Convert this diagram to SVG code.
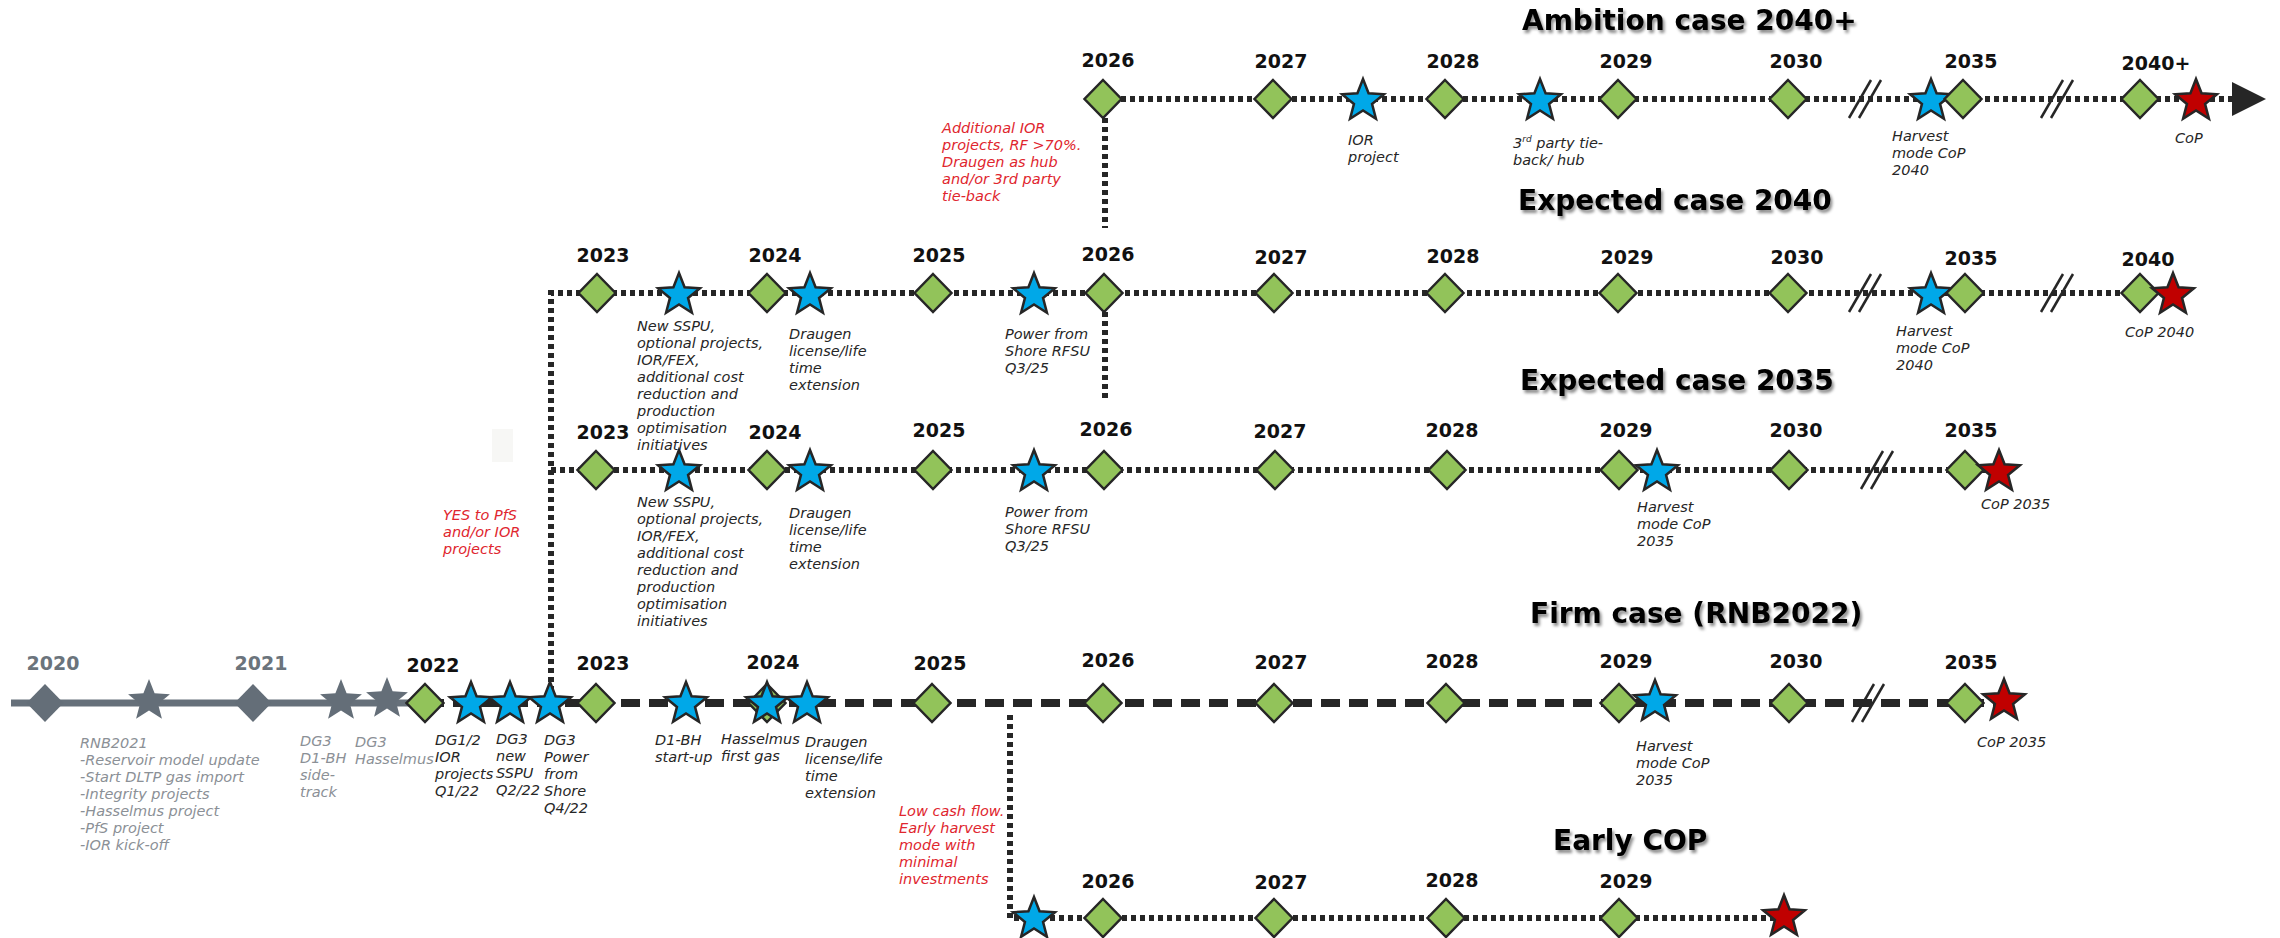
<svg xmlns="http://www.w3.org/2000/svg" width="2280" height="938" viewBox="0 0 2280 938">
<style>
.yr{font-family:"DejaVu Sans",Verdana,sans-serif;font-weight:bold;font-size:19px;text-anchor:middle;fill:#111}
.gyr{font-family:"DejaVu Sans",Verdana,sans-serif;font-weight:bold;font-size:19px;text-anchor:middle;fill:#6b747c}
.lbl{font-family:"DejaVu Sans",Verdana,sans-serif;font-style:italic;font-size:14.5px;fill:#262626}
.glbl{font-family:"DejaVu Sans",Verdana,sans-serif;font-style:italic;font-size:14.5px;fill:#8b9096}
.rlbl{font-family:"DejaVu Sans",Verdana,sans-serif;font-style:italic;font-size:14.5px;fill:#e0262e}
.title{font-family:"DejaVu Sans",Verdana,sans-serif;font-weight:bold;font-size:28px;fill:#000;filter:url(#sh)}
.dot{fill:none;stroke:#262626;stroke-width:6;stroke-dasharray:5 4}
.dash{fill:none;stroke:#262626;stroke-width:8;stroke-dasharray:19 9}
.gline{fill:none;stroke:#66707a;stroke-width:7}
.brk{stroke:#262626;stroke-width:2.5}
.dia{fill:#92c35a;stroke:#262626;stroke-width:2.5}
.sb{fill:#00a8e8;stroke:#262626;stroke-width:2.5}
.sr{fill:#c00000;stroke:#262626;stroke-width:2.5}
.gs{fill:#646e78}
</style>
<defs>
<filter id="sh" x="-10%" y="-40%" width="125%" height="190%"><feDropShadow dx="2" dy="3" stdDeviation="1.6" flood-color="#000" flood-opacity="0.45"/></filter>
<path id="dia" d="M0,-19 L18.5,0 L0,19 L-18.5,0 Z"/>
<path id="star" d="M0,-22 L5.58,-7.69 L20.92,-6.8 L9.04,2.94 L12.93,17.8 L0,9.5 L-12.93,17.8 L-9.04,2.94 L-20.92,-6.8 L-5.58,-7.69 Z"/>
<g id="brk"><line x1="-17" y1="19" x2="5" y2="-19"/><line x1="-7" y1="19" x2="15" y2="-19"/></g>
</defs>
<rect width="2280" height="938" fill="#fff"/>
<rect x="492" y="429" width="21" height="33" fill="#f7f7f5"/>

<!-- titles -->
<text class="title" x="1522" y="30">Ambition case 2040+</text>
<text class="title" x="1518" y="210">Expected case 2040</text>
<text class="title" x="1520" y="390">Expected case 2035</text>
<text class="title" x="1530" y="623">Firm case (RNB2022)</text>
<text class="title" x="1553" y="850">Early COP</text>

<g id="connectors">
<path class="gline" d="M11,703 H410"/>
<path class="dash" d="M425,703 H2000"/>
<path class="dot" d="M551,700 V293 H2170"/>
<path class="dot" d="M551,470 H1995"/>
<path class="dot" d="M1103,99 H2232"/>
<path class="dot" d="M1105,118 V228"/>
<path class="dot" d="M1105,312 V402"/>
<path class="dot" d="M1010,715 V918 H1780"/>
<polygon points="2232,82 2266,99 2232,116" fill="#262626"/>
<g class="brk">
<use href="#brk" x="1866" y="99"/><use href="#brk" x="2058" y="99"/>
<use href="#brk" x="1866" y="293"/><use href="#brk" x="2058" y="293"/>
<use href="#brk" x="1878" y="470"/>
<use href="#brk" x="1869" y="703"/>
</g>
</g>

<!-- red decision notes -->
<text class="rlbl" x="942" y="133"><tspan x="942">Additional IOR</tspan><tspan x="942" dy="17">projects, RF &gt;70%.</tspan><tspan x="942" dy="17">Draugen as hub</tspan><tspan x="942" dy="17">and/or 3rd party</tspan><tspan x="942" dy="17">tie-back</tspan></text>
<text class="rlbl" x="443" y="520"><tspan x="443">YES to PfS</tspan><tspan x="443" dy="17">and/or IOR</tspan><tspan x="443" dy="17">projects</tspan></text>
<text class="rlbl" x="899" y="816"><tspan x="899">Low cash flow.</tspan><tspan x="899" dy="17">Early harvest</tspan><tspan x="899" dy="17">mode with</tspan><tspan x="899" dy="17">minimal</tspan><tspan x="899" dy="17">investments</tspan></text>

<!-- Ambition row -->
<g id="amb-2026"><use href="#dia" class="dia" x="1103" y="99"/><text class="yr" x="1108" y="67">2026</text></g>
<g id="amb-2027"><use href="#dia" class="dia" x="1273" y="99"/><text class="yr" x="1281" y="68">2027</text></g>
<g id="amb-ior"><use href="#star" class="sb" x="1363" y="101"/><text class="lbl" x="1348" y="145"><tspan x="1348">IOR</tspan><tspan x="1348" dy="17">project</tspan></text></g>
<g id="amb-2028"><use href="#dia" class="dia" x="1445" y="99"/><text class="yr" x="1453" y="68">2028</text></g>
<g id="amb-3rd"><use href="#star" class="sb" x="1540" y="101"/><text class="lbl" x="1513" y="148"><tspan x="1513">3</tspan><tspan font-size="9" dy="-6">rd</tspan><tspan dy="6"> party tie-</tspan><tspan x="1513" dy="17">back/ hub</tspan></text></g>
<g id="amb-2029"><use href="#dia" class="dia" x="1618" y="99"/><text class="yr" x="1626" y="68">2029</text></g>
<g id="amb-2030"><use href="#dia" class="dia" x="1788" y="99"/><text class="yr" x="1796" y="68">2030</text></g>
<g id="amb-harvest"><use href="#star" class="sb" x="1931" y="101"/><text class="lbl" x="1892" y="141"><tspan x="1892">Harvest</tspan><tspan x="1892" dy="17">mode CoP</tspan><tspan x="1892" dy="17">2040</tspan></text></g>
<g id="amb-2035"><use href="#dia" class="dia" x="1963" y="99"/><text class="yr" x="1971" y="68">2035</text></g>
<g id="amb-2040"><use href="#dia" class="dia" x="2140" y="99"/><text class="yr" x="2156" y="70">2040+</text></g>
<g id="amb-cop"><use href="#star" class="sr" x="2196" y="101"/><text class="lbl" x="2175" y="143">CoP</text></g>

<!-- Expected 2040 row -->
<g id="e40-2023"><use href="#dia" class="dia" x="597" y="293"/><text class="yr" x="603" y="262">2023</text></g>
<g id="e40-sspu"><use href="#star" class="sb" x="679" y="295"/><text class="lbl" x="637" y="331"><tspan x="637">New SSPU,</tspan><tspan x="637" dy="17">optional projects,</tspan><tspan x="637" dy="17">IOR/FEX,</tspan><tspan x="637" dy="17">additional cost</tspan><tspan x="637" dy="17">reduction and</tspan><tspan x="637" dy="17">production</tspan><tspan x="637" dy="17">optimisation</tspan><tspan x="637" dy="17">initiatives</tspan></text></g>
<g id="e40-2024"><use href="#dia" class="dia" x="767" y="293"/><text class="yr" x="775" y="262">2024</text></g>
<g id="e40-draugen"><use href="#star" class="sb" x="810" y="295"/><text class="lbl" x="789" y="339"><tspan x="789">Draugen</tspan><tspan x="789" dy="17">license/life</tspan><tspan x="789" dy="17">time</tspan><tspan x="789" dy="17">extension</tspan></text></g>
<g id="e40-2025"><use href="#dia" class="dia" x="933" y="293"/><text class="yr" x="939" y="262">2025</text></g>
<g id="e40-pfs"><use href="#star" class="sb" x="1034" y="295"/><text class="lbl" x="1005" y="339"><tspan x="1005">Power from</tspan><tspan x="1005" dy="17">Shore RFSU</tspan><tspan x="1005" dy="17">Q3/25</tspan></text></g>
<g id="e40-2026"><use href="#dia" class="dia" x="1104" y="293"/><text class="yr" x="1108" y="261">2026</text></g>
<g id="e40-2027"><use href="#dia" class="dia" x="1274" y="293"/><text class="yr" x="1281" y="264">2027</text></g>
<g id="e40-2028"><use href="#dia" class="dia" x="1445" y="293"/><text class="yr" x="1453" y="263">2028</text></g>
<g id="e40-2029"><use href="#dia" class="dia" x="1618" y="293"/><text class="yr" x="1627" y="264">2029</text></g>
<g id="e40-2030"><use href="#dia" class="dia" x="1788" y="293"/><text class="yr" x="1797" y="264">2030</text></g>
<g id="e40-harvest"><use href="#star" class="sb" x="1931" y="295"/><text class="lbl" x="1896" y="336"><tspan x="1896">Harvest</tspan><tspan x="1896" dy="17">mode CoP</tspan><tspan x="1896" dy="17">2040</tspan></text></g>
<g id="e40-2035"><use href="#dia" class="dia" x="1965" y="293"/><text class="yr" x="1971" y="265">2035</text></g>
<g id="e40-2040"><use href="#dia" class="dia" x="2140" y="293"/><text class="yr" x="2148" y="266">2040</text></g>
<g id="e40-cop"><use href="#star" class="sr" x="2173" y="295"/><text class="lbl" x="2125" y="337">CoP 2040</text></g>

<!-- Expected 2035 row -->
<g id="e35-2023"><use href="#dia" class="dia" x="596" y="470"/><text class="yr" x="603" y="439">2023</text></g>
<g id="e35-sspu"><use href="#star" class="sb" x="679" y="472"/><text class="lbl" x="637" y="507"><tspan x="637">New SSPU,</tspan><tspan x="637" dy="17">optional projects,</tspan><tspan x="637" dy="17">IOR/FEX,</tspan><tspan x="637" dy="17">additional cost</tspan><tspan x="637" dy="17">reduction and</tspan><tspan x="637" dy="17">production</tspan><tspan x="637" dy="17">optimisation</tspan><tspan x="637" dy="17">initiatives</tspan></text></g>
<g id="e35-2024"><use href="#dia" class="dia" x="767" y="470"/><text class="yr" x="775" y="439">2024</text></g>
<g id="e35-draugen"><use href="#star" class="sb" x="810" y="472"/><text class="lbl" x="789" y="518"><tspan x="789">Draugen</tspan><tspan x="789" dy="17">license/life</tspan><tspan x="789" dy="17">time</tspan><tspan x="789" dy="17">extension</tspan></text></g>
<g id="e35-2025"><use href="#dia" class="dia" x="933" y="470"/><text class="yr" x="939" y="437">2025</text></g>
<g id="e35-pfs"><use href="#star" class="sb" x="1034" y="472"/><text class="lbl" x="1005" y="517"><tspan x="1005">Power from</tspan><tspan x="1005" dy="17">Shore RFSU</tspan><tspan x="1005" dy="17">Q3/25</tspan></text></g>
<g id="e35-2026"><use href="#dia" class="dia" x="1104" y="470"/><text class="yr" x="1106" y="436">2026</text></g>
<g id="e35-2027"><use href="#dia" class="dia" x="1275" y="470"/><text class="yr" x="1280" y="438">2027</text></g>
<g id="e35-2028"><use href="#dia" class="dia" x="1447" y="470"/><text class="yr" x="1452" y="437">2028</text></g>
<g id="e35-2029"><use href="#dia" class="dia" x="1619" y="470"/><text class="yr" x="1626" y="437">2029</text></g>
<g id="e35-harvest"><use href="#star" class="sb" x="1657" y="472"/><text class="lbl" x="1637" y="512"><tspan x="1637">Harvest</tspan><tspan x="1637" dy="17">mode CoP</tspan><tspan x="1637" dy="17">2035</tspan></text></g>
<g id="e35-2030"><use href="#dia" class="dia" x="1789" y="470"/><text class="yr" x="1796" y="437">2030</text></g>
<g id="e35-2035"><use href="#dia" class="dia" x="1965" y="470"/><text class="yr" x="1971" y="437">2035</text></g>
<g id="e35-cop"><use href="#star" class="sr" x="1999" y="472"/><text class="lbl" x="1981" y="509">CoP 2035</text></g>

<!-- History (grey) -->
<g id="h-2020"><use href="#dia" class="gs" x="45" y="703"/><text class="gyr" x="53" y="670">2020</text></g>
<g id="h-rnb2021"><use href="#star" class="gs" x="149" y="701"/><text class="glbl" x="80" y="748"><tspan x="80">RNB2021</tspan><tspan x="80" dy="17">-Reservoir model update</tspan><tspan x="80" dy="17">-Start DLTP gas import</tspan><tspan x="80" dy="17">-Integrity projects</tspan><tspan x="80" dy="17">-Hasselmus project</tspan><tspan x="80" dy="17">-PfS project</tspan><tspan x="80" dy="17">-IOR kick-off</tspan></text></g>
<g id="h-2021"><use href="#dia" class="gs" x="253" y="703"/><text class="gyr" x="261" y="670">2021</text></g>
<g id="h-dg3-d1bh"><use href="#star" class="gs" x="341" y="701"/><text class="glbl" x="300" y="746"><tspan x="300">DG3</tspan><tspan x="300" dy="17">D1-BH</tspan><tspan x="300" dy="17">side-</tspan><tspan x="300" dy="17">track</tspan></text></g>
<g id="h-dg3-hass"><use href="#star" class="gs" x="387" y="699"/><text class="glbl" x="355" y="747"><tspan x="355">DG3</tspan><tspan x="355" dy="17">Hasselmus</tspan></text></g>

<!-- Firm row -->
<g id="f-2022"><use href="#dia" class="dia" x="425" y="703"/><text class="yr" x="433" y="672">2022</text></g>
<g id="f-dg12"><use href="#star" class="sb" x="471" y="704"/><text class="lbl" x="435" y="745"><tspan x="435">DG1/2</tspan><tspan x="435" dy="17">IOR</tspan><tspan x="435" dy="17">projects</tspan><tspan x="435" dy="17">Q1/22</tspan></text></g>
<g id="f-dg3sspu"><use href="#star" class="sb" x="510" y="704"/><text class="lbl" x="496" y="744"><tspan x="496">DG3</tspan><tspan x="496" dy="17">new</tspan><tspan x="496" dy="17">SSPU</tspan><tspan x="496" dy="17">Q2/22</tspan></text></g>
<g id="f-dg3pfs"><use href="#star" class="sb" x="550" y="704"/><text class="lbl" x="544" y="745"><tspan x="544">DG3</tspan><tspan x="544" dy="17">Power</tspan><tspan x="544" dy="17">from</tspan><tspan x="544" dy="17">Shore</tspan><tspan x="544" dy="17">Q4/22</tspan></text></g>
<g id="f-2023"><use href="#dia" class="dia" x="596" y="703"/><text class="yr" x="603" y="670">2023</text></g>
<g id="f-d1bh"><use href="#star" class="sb" x="686" y="704"/><text class="lbl" x="655" y="745"><tspan x="655">D1-BH</tspan><tspan x="655" dy="17">start-up</tspan></text></g>
<g id="f-2024"><use href="#dia" class="dia" x="767" y="703"/><text class="yr" x="773" y="669">2024</text></g>
<g id="f-hass"><use href="#star" class="sb" x="767" y="704"/><text class="lbl" x="721" y="744"><tspan x="721">Hasselmus</tspan><tspan x="721" dy="17">first gas</tspan></text></g>
<g id="f-draugen"><use href="#star" class="sb" x="807" y="704"/><text class="lbl" x="805" y="747"><tspan x="805">Draugen</tspan><tspan x="805" dy="17">license/life</tspan><tspan x="805" dy="17">time</tspan><tspan x="805" dy="17">extension</tspan></text></g>
<g id="f-2025"><use href="#dia" class="dia" x="932" y="703"/><text class="yr" x="940" y="670">2025</text></g>
<g id="f-2026"><use href="#dia" class="dia" x="1103" y="703"/><text class="yr" x="1108" y="667">2026</text></g>
<g id="f-2027"><use href="#dia" class="dia" x="1274" y="703"/><text class="yr" x="1281" y="669">2027</text></g>
<g id="f-2028"><use href="#dia" class="dia" x="1446" y="703"/><text class="yr" x="1452" y="668">2028</text></g>
<g id="f-2029"><use href="#dia" class="dia" x="1619" y="703"/><text class="yr" x="1626" y="668">2029</text></g>
<g id="f-harvest"><use href="#star" class="sb" x="1655" y="702"/><text class="lbl" x="1636" y="751"><tspan x="1636">Harvest</tspan><tspan x="1636" dy="17">mode CoP</tspan><tspan x="1636" dy="17">2035</tspan></text></g>
<g id="f-2030"><use href="#dia" class="dia" x="1789" y="703"/><text class="yr" x="1796" y="668">2030</text></g>
<g id="f-2035"><use href="#dia" class="dia" x="1965" y="703"/><text class="yr" x="1971" y="669">2035</text></g>
<g id="f-cop"><use href="#star" class="sr" x="2004" y="701"/><text class="lbl" x="1977" y="747">CoP 2035</text></g>

<!-- Early COP row -->
<g id="c-harvest"><use href="#star" class="sb" x="1034" y="919"/></g>
<g id="c-2026"><use href="#dia" class="dia" x="1103" y="918"/><text class="yr" x="1108" y="888">2026</text></g>
<g id="c-2027"><use href="#dia" class="dia" x="1274" y="918"/><text class="yr" x="1281" y="889">2027</text></g>
<g id="c-2028"><use href="#dia" class="dia" x="1446" y="918"/><text class="yr" x="1452" y="887">2028</text></g>
<g id="c-2029"><use href="#dia" class="dia" x="1619" y="918"/><text class="yr" x="1626" y="888">2029</text></g>
<g id="c-cop"><use href="#star" class="sr" x="1784" y="917"/></g>
</svg>
